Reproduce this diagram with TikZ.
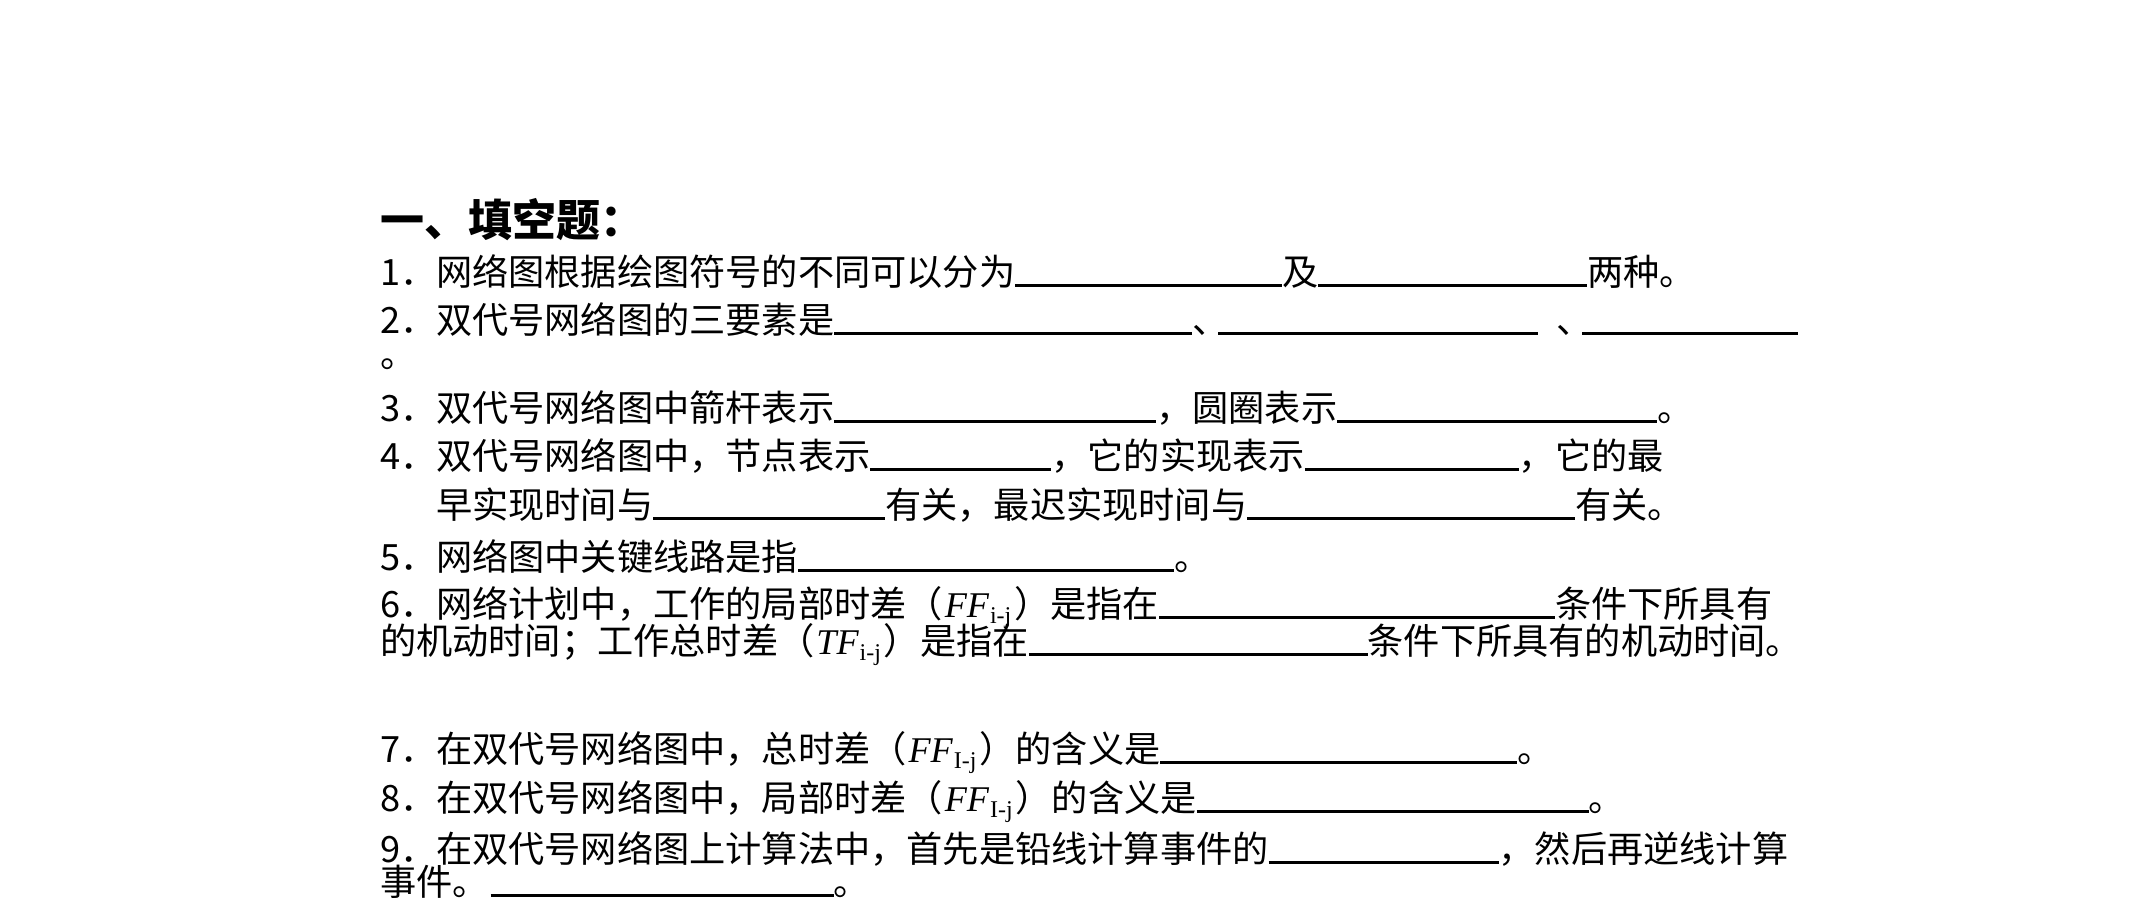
\documentclass[tikz,border=0pt]{standalone}
\usepackage{fontspec}
\setmainfont{Noto Sans CJK SC}
\newfontfamily\lat{Liberation Serif}
\newcommand\blank[1]{\rule[-2pt]{#1pt}{3pt}}
\newcommand\qnum[1]{\makebox[56pt][l]{#1}}
\newcommand\ffij[2]{\hspace{2pt}{\lat\itshape #1}\hspace{1pt}{\lat\fontsize{24pt}{24pt}\selectfont\raisebox{-6pt}{#2}}\hspace{3pt}}
\tikzset{
  ln/.style={anchor=base west, inner sep=0pt, outer sep=0pt, font=\fontsize{36.2pt}{48pt}\selectfont},
  head/.style={anchor=base west, inner sep=0pt, outer sep=0pt, font=\fontsize{44pt}{48pt}\selectfont\bfseries}
}
\begin{document}
\begin{tikzpicture}[x=1pt,y=-1pt]
\path[use as bounding box, fill=white] (0,0) rectangle (2149,900);
\node[head] (h) at (380,236) {一、填空题：};
\node[ln] (q1) at (380,285) {\qnum{1．}网络图根据绘图符号的不同可以分为\blank{267}及\blank{269}两种。};
\node[ln] (q2) at (380,333) {\qnum{2．}双代号网络图的三要素是\blank{358}\makebox[26pt][l]{、}\blank{320}\hspace{18pt}\makebox[26pt][l]{、}\blank{216}};
\node[ln] (q2e) at (380,367) {。};
\node[ln] (q3) at (380,421) {\qnum{3．}双代号网络图中箭杆表示\blank{322}，圆圈表示\blank{320}。};
\node[ln] (q4) at (380,469) {\qnum{4．}双代号网络图中，节点表示\blank{181}，它的实现表示\blank{214}，它的最};
\node[ln] (q4b) at (436,518) {早实现时间与\blank{232}有关，最迟实现时间与\blank{328}有关。};
\node[ln] (q5) at (380,570) {\qnum{5．}网络图中关键线路是指\blank{376}。};
\node[ln] (q6) at (380,617) {\qnum{6．}网络计划中，工作的局部时差（\ffij{FF}{i-j}）是指在\blank{396}条件下所具有};
\node[ln] (q6b) at (380,654) {的机动时间；工作总时差（\ffij{TF}{i-j}）是指在\blank{339}条件下所具有的机动时间。};
\node[ln] (q7) at (380,762) {\qnum{7．}在双代号网络图中，总时差（\ffij{FF}{I-j}）的含义是\blank{357}。};
\node[ln] (q8) at (380,811) {\qnum{8．}在双代号网络图中，局部时差（\ffij{FF}{I-j}）的含义是\blank{392}。};
\node[ln] (q9) at (380,862) {\qnum{9．}在双代号网络图上计算法中，首先是铅线计算事件的\blank{230}，然后再逆线计算};
\node[ln] (q9b) at (380,895) {事件。\hspace{2pt}\blank{343}。};
\end{tikzpicture}
\end{document}
